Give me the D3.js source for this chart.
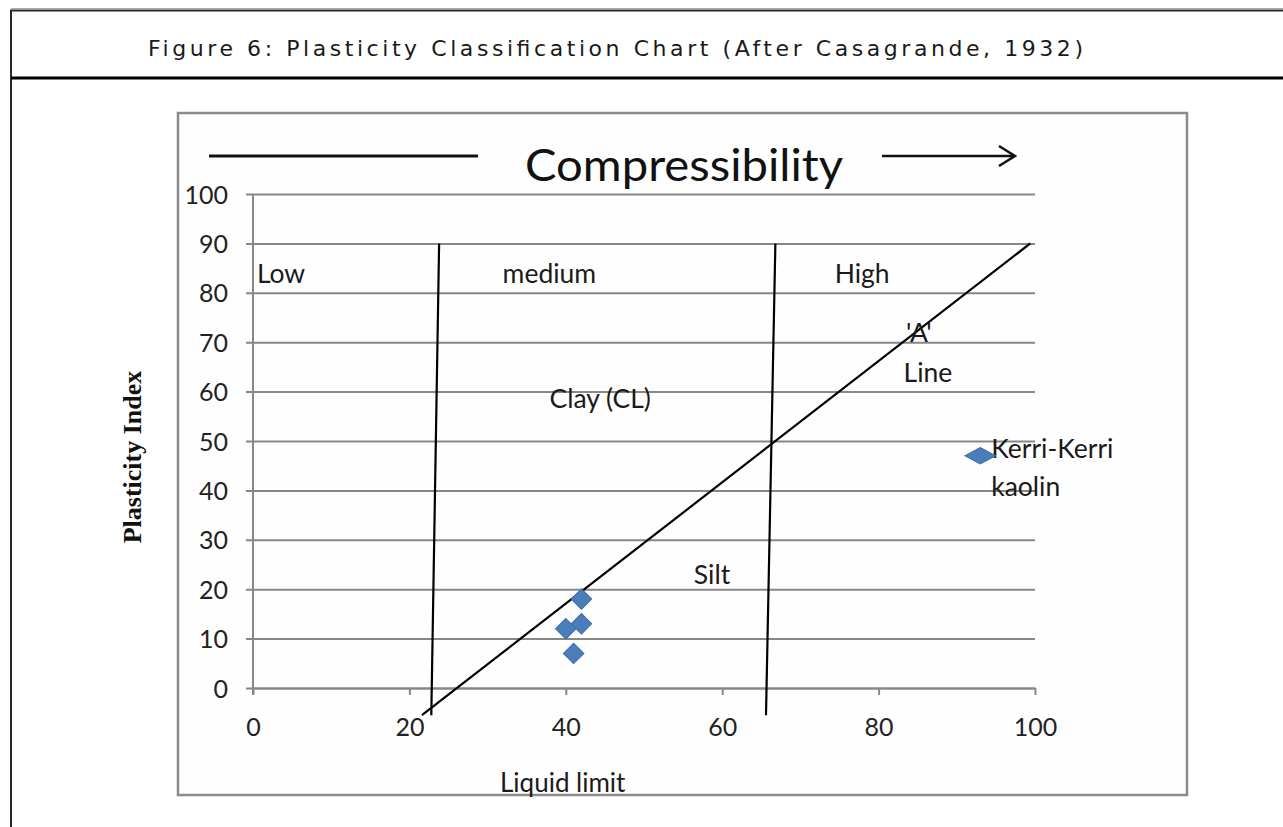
<!DOCTYPE html>
<html>
<head>
<meta charset="utf-8">
<script src="https://cdn.jsdelivr.net/npm/d3@7"></script>
<style>
  html, body { margin: 0; padding: 0; background: #fff; }
  svg { display: block; }
  .tick text { font-family: Lato, "Open Sans", sans-serif; fill: #222; }
</style>
</head>
<body>
<svg id="chart" width="1283" height="827"></svg>
<script>
// Samples: liquid limit (x) vs plasticity index (y)
const liquidLimit = [42, 42, 40, 41, 93];
const plasticityIndex = [18, 13, 12, 7, 47];
const sampleType = ["sample", "sample", "sample", "sample", "kerri"];

const xTicks = [0, 20, 40, 60, 80, 100];
const yTicks = [0, 10, 20, 30, 40, 50, 60, 70, 80, 90, 100];

// Chart lines drawn by hand on the original (LL, PI) end points
const lowMediumLine = [[23.8, 90], [22.8, -5.5]];
const mediumHighLine = [[66.8, 90], [65.6, -5.5]];
const aLine = [[21.6, -5.5], [99.4, 90]];

// Zone / annotation labels anchored in data space
const labelText = ["Low", "medium", "High", "Clay (CL)", "'A'", "Line", "Silt", "Kerri-Kerri", "kaolin"];
const labelLL = [0.5, 37.9, 77.9, 44.4, 83.5, 83.2, 58.7, 94.4, 94.4];
const labelPI = [82, 82, 82, 56.7, 70, 62, 21, 46.6, 38.8];
const labelAnchor = ["start", "middle", "middle", "middle", "start", "start", "middle", "start", "start"];

const title = "Figure 6: Plasticity Classification Chart (After Casagrande, 1932)";

const svg = d3.select("#chart");
const x = d3.scaleLinear([0, 100], [253, 1035]);
const y = d3.scaleLinear([0, 100], [688, 194]);
const gridColor = "#878787";
const sans = "Lato, 'Open Sans', sans-serif";

// Page frame + title box
svg.append("line").attr("x1", 11).attr("x2", 1283).attr("y1", 8.5).attr("y2", 8.5)
  .attr("stroke", "#aaa").attr("stroke-width", 1);
svg.append("rect").attr("x", 11).attr("y", 10.5).attr("width", 1300).attr("height", 830)
  .attr("fill", "none").attr("stroke", "#2b2b2b").attr("stroke-width", 2);
svg.append("line").attr("x1", 11).attr("x2", 1283).attr("y1", 78).attr("y2", 78)
  .attr("stroke", "#000").attr("stroke-width", 3);
svg.append("text")
  .attr("x", 148).attr("y", 56)
  .attr("textLength", 935).attr("lengthAdjust", "spacing")
  .attr("font-family", "'DejaVu Sans', Verdana, sans-serif")
  .attr("font-size", 22).attr("fill", "#1a1a1a")
  .text(title);

// Embedded chart box
svg.append("rect").attr("x", 178).attr("y", 113).attr("width", 1009).attr("height", 682)
  .attr("fill", "#fefefe").attr("stroke", "#8a8a8a").attr("stroke-width", 2.5);

// Y axis with gridlines
const yAxis = svg.append("g")
  .attr("transform", `translate(${x(0)},0)`)
  .call(d3.axisLeft(y).tickValues(yTicks).tickSize(-(x(100) - x(0))).tickSizeOuter(0).tickPadding(25));
yAxis.select(".domain").remove();
yAxis.selectAll(".tick line").attr("x1", -7).attr("stroke", gridColor).attr("stroke-width", 2);
yAxis.selectAll(".tick text").attr("font-size", 25).attr("dy", "0.36em");
svg.append("line").attr("x1", x(0)).attr("x2", x(0)).attr("y1", y(100)).attr("y2", y(0) + 7)
  .attr("stroke", gridColor).attr("stroke-width", 2);

// X axis
const xAxis = svg.append("g")
  .attr("transform", `translate(0,${y(0)})`)
  .call(d3.axisBottom(x).tickValues(xTicks).tickSize(7).tickSizeOuter(0).tickPadding(23));
xAxis.select(".domain").attr("stroke", gridColor).attr("stroke-width", 2);
xAxis.selectAll(".tick line").attr("stroke", gridColor).attr("stroke-width", 2);
xAxis.selectAll(".tick text").attr("font-size", 25).attr("dy", "0.71em");

// Compressibility banner
svg.append("line").attr("x1", 209).attr("x2", 478).attr("y1", 156).attr("y2", 156)
  .attr("stroke", "#111").attr("stroke-width", 3);
svg.append("path").attr("d", "M882,156H1015M999,146L1015,156L999,166")
  .attr("fill", "none").attr("stroke", "#111").attr("stroke-width", 2.5);
svg.append("text").attr("x", 525).attr("y", 181)
  .attr("textLength", 318).attr("lengthAdjust", "spacingAndGlyphs")
  .attr("font-family", sans).attr("font-size", 45).attr("fill", "#111")
  .text("Compressibility");

// Boundary lines and the 'A' line
const line = d3.line().x((d) => x(d[0])).y((d) => y(d[1]));
svg.selectAll("path.boundary")
  .data([lowMediumLine, mediumHighLine, aLine])
  .join("path")
  .attr("class", "boundary")
  .attr("d", line)
  .attr("fill", "none")
  .attr("stroke", "#000")
  .attr("stroke-width", 2.2);

// Labels
svg.selectAll("text.zone")
  .data(labelText)
  .join("text")
  .attr("class", "zone")
  .attr("x", (d, i) => x(labelLL[i]))
  .attr("y", (d, i) => y(labelPI[i]))
  .attr("text-anchor", (d, i) => labelAnchor[i])
  .attr("font-family", sans)
  .attr("font-size", 26.5)
  .attr("fill", "#1a1a1a")
  .text((d) => d);

// Markers
const diamond = d3.symbol(d3.symbolSquare, 210)();
svg.selectAll("path.marker")
  .data(liquidLimit.map((ll, i) => ({ ll, pi: plasticityIndex[i], type: sampleType[i] })))
  .join("path")
  .attr("class", "marker")
  .attr("d", diamond)
  .attr("transform", (d) =>
    d.type == "kerri"
      ? `translate(${x(d.ll)},${y(d.pi)}) scale(1.5,0.8) rotate(45)`
      : `translate(${x(d.ll)},${y(d.pi)}) rotate(45)`)
  .attr("fill", "#4a7ebb")
  .attr("stroke", "#3d6ea8")
  .attr("stroke-width", 1);

// Axis titles
svg.append("text").attr("x", 500).attr("y", 792)
  .attr("font-family", sans).attr("font-size", 26).attr("fill", "#1a1a1a")
  .text("Liquid limit");
svg.append("text")
  .attr("transform", "translate(141,457) rotate(-90)")
  .attr("text-anchor", "middle")
  .attr("font-family", "'Liberation Serif', 'Times New Roman', serif")
  .attr("font-weight", "bold").attr("font-size", 26).attr("fill", "#111")
  .text("Plasticity Index");
</script>
</body>
</html>
